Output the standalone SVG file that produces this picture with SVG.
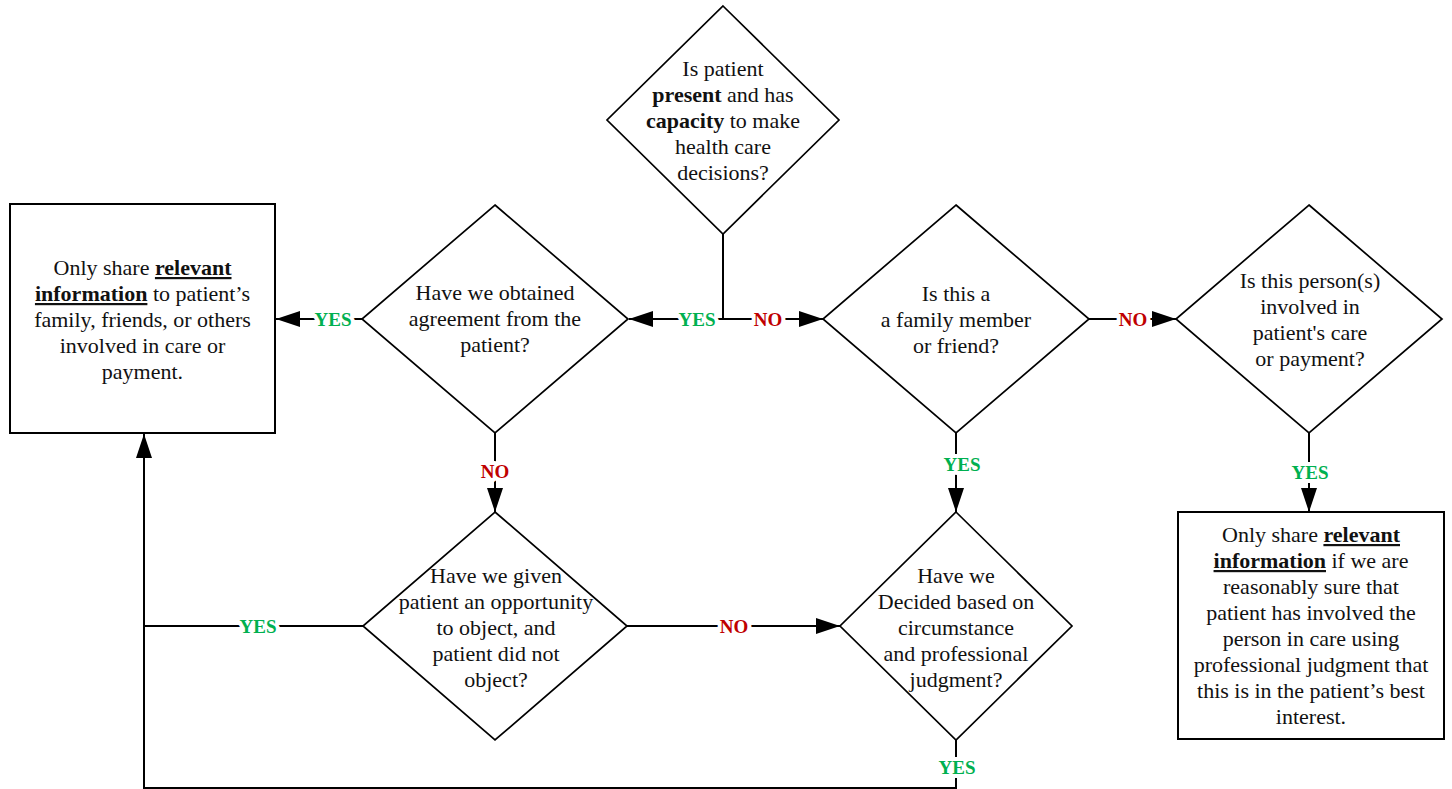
<svg xmlns="http://www.w3.org/2000/svg" width="1452" height="789" viewBox="0 0 1452 789">
<style>
.shape{fill:#fff;stroke:#000;stroke-width:1.7}
.box{fill:#fff;stroke:#000;stroke-width:2}
.t{font-family:"Liberation Serif","Times New Roman",serif;font-size:22px;fill:#111;text-anchor:middle}
.b{font-weight:bold}
.u{font-weight:bold;text-decoration:underline}
.conn{fill:none;stroke:#000;stroke-width:2}
.lbl{font-family:"Liberation Serif","Times New Roman",serif;font-size:19px;font-weight:bold;text-anchor:middle;stroke:#fff;stroke-width:8;paint-order:stroke;stroke-linejoin:round}
.yes{fill:#00B050}
.no{fill:#C00000}
</style>
<defs>
<marker id="arr" markerUnits="userSpaceOnUse" markerWidth="24" markerHeight="16" refX="24" refY="8" orient="auto">
<path d="M0,0 L24,8 L0,16 z" fill="#000"/>
</marker>
</defs>
<rect width="1452" height="789" fill="#fff"/>
<g id="connectors">
<path class="conn" d="M723,234 V319 H629" marker-end="url(#arr)"/>
<path class="conn" d="M723,319 H823" marker-end="url(#arr)"/>
<path class="conn" d="M362,319 H276" marker-end="url(#arr)"/>
<path class="conn" d="M1089,319 H1176" marker-end="url(#arr)"/>
<path class="conn" d="M495,433 V512" marker-end="url(#arr)"/>
<path class="conn" d="M956,433 V512" marker-end="url(#arr)"/>
<path class="conn" d="M1309,433 V512" marker-end="url(#arr)"/>
<path class="conn" d="M627,626 H840" marker-end="url(#arr)"/>
<path class="conn" d="M363,626 H144"/>
<path class="conn" d="M956,740 V788 H144 V434" marker-end="url(#arr)"/>
<text class="lbl yes" x="697" y="326">YES</text>
<text class="lbl no" x="768" y="326">NO</text>
<text class="lbl yes" x="333" y="326">YES</text>
<text class="lbl no" x="1133" y="326">NO</text>
<text class="lbl no" x="495" y="478">NO</text>
<text class="lbl yes" x="962" y="471">YES</text>
<text class="lbl yes" x="1310" y="479">YES</text>
<text class="lbl yes" x="258" y="633">YES</text>
<text class="lbl no" x="734" y="633">NO</text>
<text class="lbl yes" x="957" y="774">YES</text>
</g>
<g id="n-capacity">
<polygon class="shape" points="723,6 839,120 723,234 607,120"/>
<text class="t" x="723" y="76">Is patient</text>
<text class="t" x="723" y="102"><tspan class="b">present</tspan> and has</text>
<text class="t" x="723" y="128"><tspan class="b">capacity</tspan> to make</text>
<text class="t" x="723" y="154">health care</text>
<text class="t" x="723" y="180">decisions?</text>
</g>
<g id="n-share-left">
<rect class="box" x="10" y="204" width="265" height="229"/>
<text class="t" x="142.5" y="275">Only share <tspan class="u">relevant</tspan></text>
<text class="t" x="142.5" y="301"><tspan class="u">information</tspan> to patient’s</text>
<text class="t" x="142.5" y="327">family, friends, or others</text>
<text class="t" x="142.5" y="353">involved in care or</text>
<text class="t" x="142.5" y="379">payment.</text>
</g>
<g id="n-agreement">
<polygon class="shape" points="495,205 628,319 495,433 362,319"/>
<text class="t" x="495" y="300">Have we obtained</text>
<text class="t" x="495" y="326">agreement from the</text>
<text class="t" x="495" y="352">patient?</text>
</g>
<g id="n-family">
<polygon class="shape" points="956,205 1089,319 956,433 823,319"/>
<text class="t" x="956" y="301">Is this a</text>
<text class="t" x="956" y="327">a family member</text>
<text class="t" x="956" y="353">or friend?</text>
</g>
<g id="n-involved">
<polygon class="shape" points="1309,205 1442,319 1309,433 1176,319"/>
<text class="t" x="1310" y="288">Is this person(s)</text>
<text class="t" x="1310" y="314">involved in</text>
<text class="t" x="1310" y="340">patient's care</text>
<text class="t" x="1310" y="366">or payment?</text>
</g>
<g id="n-opportunity">
<polygon class="shape" points="495,512 627,626 495,740 363,626"/>
<text class="t" x="496" y="583">Have we given</text>
<text class="t" x="496" y="609">patient an opportunity</text>
<text class="t" x="496" y="635">to object, and</text>
<text class="t" x="496" y="661">patient did not</text>
<text class="t" x="496" y="687">object?</text>
</g>
<g id="n-decided">
<polygon class="shape" points="956,512 1072,626 956,740 840,626"/>
<text class="t" x="956" y="583">Have we</text>
<text class="t" x="956" y="609">Decided based on</text>
<text class="t" x="956" y="635">circumstance</text>
<text class="t" x="956" y="661">and professional</text>
<text class="t" x="956" y="687">judgment?</text>
</g>
<g id="n-share-right">
<rect class="box" x="1178" y="512" width="266" height="227"/>
<text class="t" x="1311" y="542">Only share <tspan class="u">relevant</tspan></text>
<text class="t" x="1311" y="568"><tspan class="u">information</tspan> if we are</text>
<text class="t" x="1311" y="594">reasonably sure that</text>
<text class="t" x="1311" y="620">patient has involved the</text>
<text class="t" x="1311" y="646">person in care using</text>
<text class="t" x="1311" y="672">professional judgment that</text>
<text class="t" x="1311" y="698">this is in the patient’s best</text>
<text class="t" x="1311" y="724">interest.</text>
</g>
</svg>
